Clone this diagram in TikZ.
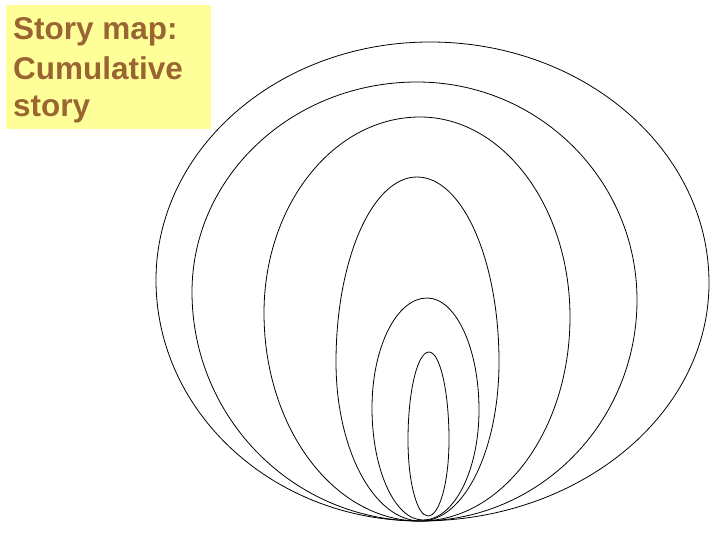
\documentclass[tikz,border=0pt]{standalone}
\usepackage{fontspec}
\setmainfont{Liberation Sans}
\definecolor{noteyellow}{HTML}{FFFF99}
\definecolor{notebrown}{HTML}{996633}
\newcommand{\eggshape}[8]{%
  \draw[eggline] (#1,#2)
    .. controls ({#1+0.5523*(#3-#1)},#2) and (#3,{#4+0.5523*(#2-#4)}) .. (#3,#4)
    .. controls (#3,{#4+0.5523*(#6-#4)}) and ({#5+0.5523*(#3-#5)},#6) .. (#5,#6)
    .. controls ({#5+0.5523*(#7-#5)},#6) and (#7,{#8+0.5523*(#6-#8)}) .. (#7,#8)
    .. controls (#7,{#8+0.5523*(#2-#8)}) and ({#1+0.5523*(#7-#1)},#2) .. (#1,#2);}
\begin{document}
\begin{tikzpicture}[x=1pt,y=-1pt,
  eggline/.style={draw=black,line width=0.8pt},
  notetext/.style={anchor=base west,inner sep=0pt,text=notebrown,font=\fontsize{31.5}{38}\selectfont\bfseries}]
\useasboundingbox (0,0) rectangle (720,540);
\fill[white] (0,0) rectangle (720,540);
\fill[noteyellow] (6,5) rectangle (211,129);
\node[notetext] (l1) at (13,40) {Story map:};
\node[notetext] (l2) at (13,80) {Cumulative};
\node[notetext] (l3) at (13,117) {story};
\eggshape{420}{521}{156}{280}{430}{42}{709}{283}
\eggshape{420}{521}{192}{292}{417}{82}{637}{300}
\eggshape{420}{521}{264}{313}{420}{117}{570}{317}
\eggshape{421}{521}{336}{362}{417}{177}{499}{362}
\eggshape{423}{520}{372}{408}{427}{298}{479}{410}
\eggshape{428}{516}{408}{440}{429}{352}{449}{440}
\end{tikzpicture}
\end{document}
